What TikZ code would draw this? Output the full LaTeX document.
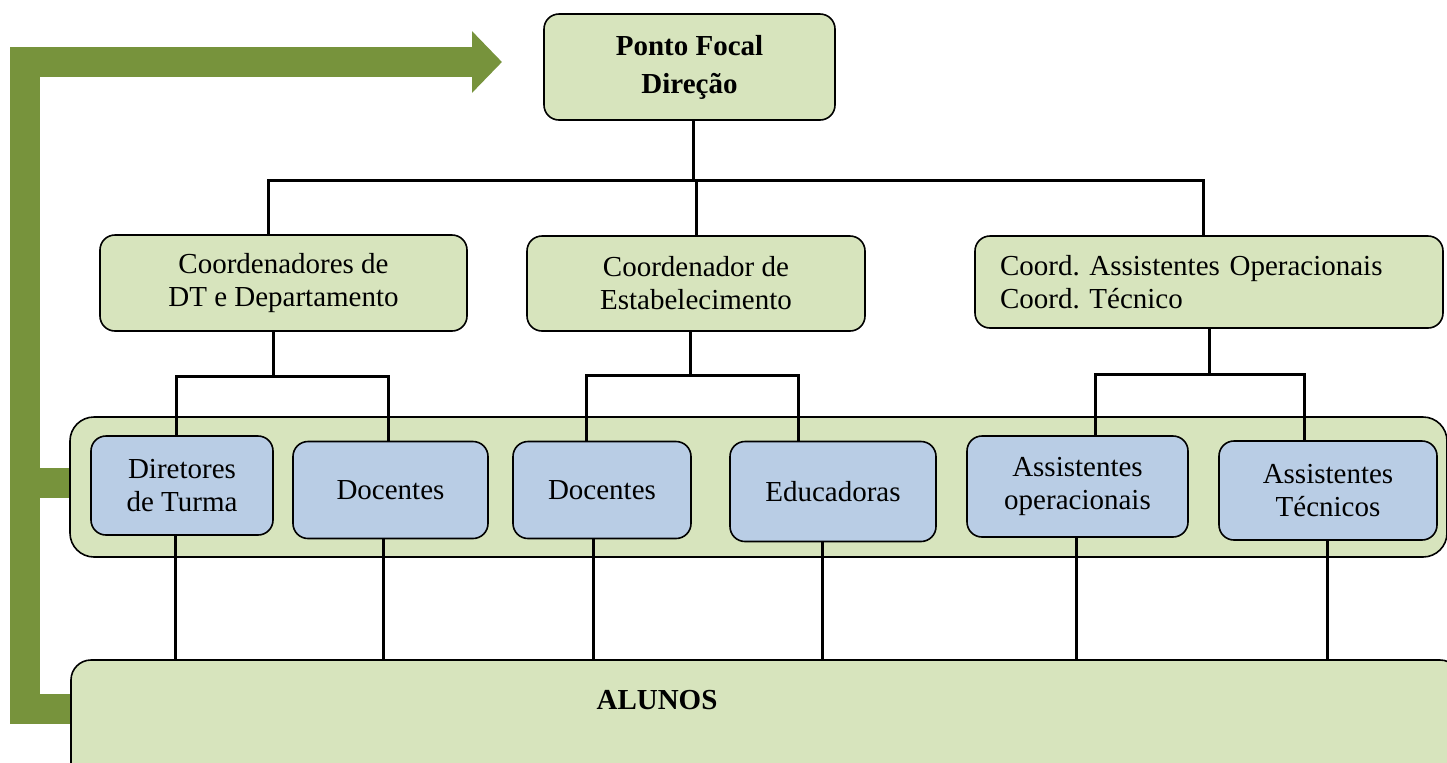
\documentclass[tikz,border=0pt]{standalone}
\usepackage{fontspec}
\setmainfont{Liberation Serif}
\usetikzlibrary{arrows.meta,backgrounds}
\definecolor{boxgreen}{HTML}{D7E4BD}
\definecolor{boxblue}{HTML}{B9CDE5}
\definecolor{bargreen}{HTML}{77933C}
\frenchspacing
\tikzset{
	greenbox/.style={draw, line width=0.8pt, fill=boxgreen, rounded corners=7.5pt,
		inner sep=2pt, align=center, font=\fontsize{14.5}{16.5}\selectfont},
	bluebox/.style={greenbox, fill=boxblue},
	link/.style={line width=1.5pt},
	feedback/.style={draw=bargreen, line width=15pt, -{Triangle[length=15pt,width=30pt]}}
}
\begin{document}
\begin{tikzpicture}[x=0.5pt, y=-0.5pt]
	\useasboundingbox (0,0) rectangle (1447,762);
	\clip (0,0) rectangle (1447,762);

	% top
	\node[greenbox, minimum width=145.5pt, minimum height=53pt,
		font=\bfseries\fontsize{14.5}{19}\selectfont] (focal) at (689.5,67) {Ponto Focal\\Direção};

	% coordination
	\node[greenbox, minimum width=183.5pt, minimum height=48pt] (coorddt) at (283.5,283)
		{Coordenadores de\\DT e Departamento};
	\node[greenbox, minimum width=169pt, minimum height=47.5pt] (coordest) at (696,283.5)
		{Coordenador de\\Estabelecimento};
	\node[greenbox, minimum width=234pt, minimum height=46pt, text width=209pt, align=left]
		(coordassist) at (1209,282) {Coord. Assistentes Operacionais\\Coord. Técnico};

	% staff row
	\node[greenbox, rounded corners=12pt, minimum width=688.5pt, minimum height=70pt,
		inner sep=0pt] (staff) at (758.5,487) {};
	\node[bluebox, minimum width=91pt, minimum height=49.5pt] (dirturma) at (182,485.5) {Diretores\\de Turma};
	\node[bluebox, minimum width=97.5pt, minimum height=48.5pt] (docA) at (390.5,490) {Docentes};
	\node[bluebox, minimum width=89pt, minimum height=48.5pt] (docB) at (602,490) {Docentes};
	\node[bluebox, minimum width=103pt, minimum height=50pt] (educ) at (833,491.5) {Educadoras};
	\node[bluebox, minimum width=110.5pt, minimum height=50.5pt] (assop) at (1077.5,486.5) {Assistentes\\operacionais};
	\node[bluebox, minimum width=109pt, minimum height=49.5pt] (asstec) at (1328,490.5) {Assistentes\\Técnicos};

	% students
	\node[greenbox, rounded corners=10pt, minimum width=694.5pt, minimum height=65pt] (alunos) at (765.5,725) {};
	\node[font=\bfseries\fontsize{14.5}{16.5}\selectfont] (alunoslabel) at (657,700) {ALUNOS};

	% connectors
	\coordinate (busA) at (0,180);
	\coordinate (busB) at (0,376);
	\coordinate (busC) at (0,375);
	\coordinate (busD) at (0,374);
	\draw[link] ([xshift=1.75pt]focal.south) -- ([xshift=1.75pt]focal.south |- busA);
	\draw[link] ([xshift=-7.75pt]coorddt.north) |- ([xshift=-3pt]coordassist.north |- busA)
		-- ([xshift=-3pt]coordassist.north);
	\draw[link] (coordest.north) -- (coordest.north |- busA);

	\draw[link] ([xshift=-5pt]coorddt.south) -- ([xshift=-5pt]coorddt.south |- busB);
	\draw[link] ([xshift=-3pt]dirturma.north) |- ([xshift=-1.25pt]docA.north |- busB)
		-- ([xshift=-1.25pt]docA.north);
	\draw[link] ([xshift=-3pt]coordest.south) -- ([xshift=-3pt]coordest.south |- busC);
	\draw[link] ([xshift=-8pt]docB.north) |- ([xshift=-17.5pt]educ.north |- busC)
		-- ([xshift=-17.5pt]educ.north);
	\draw[link] (coordassist.south) -- (coordassist.south |- busD);
	\draw[link] ([xshift=8.75pt]assop.north) |- ([xshift=-12pt]asstec.north |- busD)
		-- ([xshift=-12pt]asstec.north);

	\foreach \n/\s in {dirturma/-3.5pt, docA/-3.75pt, docB/-4.5pt, educ/-5.5pt, assop/-0.75pt, asstec/-0.5pt}
		\draw[link] ([xshift=\s]\n.south) -- ([xshift=\s]\n.south |- alunos.north);

	% feedback arrow
	\coordinate (corner) at (25,62);
	\coordinate (tip) at (502,62);
	\coordinate (midrow) at (0,482.5);
	\coordinate (lowrow) at (0,708.5);
	\begin{scope}[on background layer]
		\draw[feedback] (alunos.west |- lowrow) -| (corner) -- (tip);
		\draw[draw=bargreen, line width=15pt] (staff.west |- midrow) -- (corner |- midrow);
	\end{scope}
\end{tikzpicture}
\end{document}
